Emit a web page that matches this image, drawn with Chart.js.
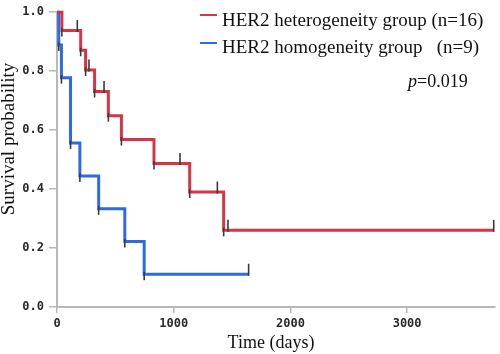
<!DOCTYPE html>
<html lang="en">
<head>
<meta charset="UTF-8">
<title>Survival probability</title>
<script src="https://cdn.jsdelivr.net/npm/chart.js"></script>
<style>
  body { margin: 0; background: #fff; }
  #wrap { width: 500px; height: 354px; }
</style>
</head>
<body>
<div id="wrap"><canvas id="km" width="500" height="354"></canvas></div>
<script>
// group names (legend)
const groupNames = ['HER2 heterogeneity group (n=16)', 'HER2 homogeneity group   (n=9)'];

// heterogeneity group: step points (time in days, survival)
const heteroTimes = [0, 42, 203, 245, 322, 440, 552, 831, 1137, 1428, 3742];
const heteroSurv = [1.0, 0.938, 0.871, 0.804, 0.731, 0.649, 0.568, 0.487, 0.390, 0.260, 0.260];
const heteroCensorTimes = [174, 274, 403, 1054, 1374, 1465, 3742];
const heteroCensorSurv = [0.938, 0.804, 0.731, 0.487, 0.390, 0.260, 0.260];

// homogeneity group
const homoTimes = [0, 15, 38, 116, 196, 357, 581, 747, 1642];
const homoSurv = [1.0, 0.889, 0.778, 0.556, 0.444, 0.333, 0.222, 0.111, 0.111];
const homoCensorTimes = [1642];
const homoCensorSurv = [0.111];

// axes
const xTickValues = [0, 1000, 2000, 3000];
const yTickValues = [0.0, 0.2, 0.4, 0.6, 0.8, 1.0];
const pValueText = '=0.019';

const RED = '#d63447';
const BLUE = '#2d6be3';

function toPoints(t, s) {
    return t.map((v, i) => ({ x: v, y: s[i] }));
}

// event ticks (under the line at each drop), censor ticks (above the line)
const marksPlugin = {
    id: 'marks',
    afterDatasetsDraw(chart) {
        const { ctx, scales: { x, y } } = chart;
        ctx.save();
        ctx.strokeStyle = '#3a3a3a';
        ctx.lineWidth = 1.6;
        [[heteroTimes, heteroSurv], [homoTimes, homoSurv]].forEach(([t, s]) => {
            for (let i = 1; i < t.length - 1; i++) {
                const px = x.getPixelForValue(t[i]);
                const py = y.getPixelForValue(s[i]);
                ctx.beginPath();
                ctx.moveTo(px, py - 2.5);
                ctx.lineTo(px, py + 6);
                ctx.stroke();
            }
        });
        [[heteroCensorTimes, heteroCensorSurv], [homoCensorTimes, homoCensorSurv]].forEach(([t, s]) => {
            t.forEach((v, i) => {
                const px = x.getPixelForValue(v);
                const py = y.getPixelForValue(s[i]);
                ctx.beginPath();
                ctx.moveTo(px, py + 1.5);
                ctx.lineTo(px, py - 10.5);
                ctx.stroke();
            });
        });
        ctx.restore();
    },
    afterDraw(chart) {
        const ctx = chart.ctx;
        ctx.save();
        // legend
        const colors = [RED, BLUE];
        const lineY = [15, 43];
        const textY = [26, 53];
        ctx.font = '19px "Liberation Serif"';
        ctx.fillStyle = '#111';
        ctx.textBaseline = 'alphabetic';
        ctx.textAlign = 'left';
        groupNames.forEach((name, i) => {
            ctx.strokeStyle = colors[i];
            ctx.lineWidth = 2;
            ctx.beginPath();
            ctx.moveTo(200, lineY[i]);
            ctx.lineTo(217, lineY[i]);
            ctx.stroke();
            ctx.fillText(name, 222, textY[i]);
        });
        // p value
        ctx.font = 'italic 18px "Liberation Serif"';
        ctx.fillText('p', 408, 87);
        const pw = ctx.measureText('p').width;
        ctx.font = '18px "Liberation Serif"';
        ctx.fillText(pValueText, 408 + pw, 87);
        // axis titles
        ctx.textAlign = 'center';
        ctx.fillText('Time (days)', 271, 348);
        ctx.translate(14, 139);
        ctx.rotate(-Math.PI / 2);
        ctx.font = '19px "Liberation Serif"';
        ctx.fillText('Survival probability', 0, 0);
        ctx.restore();
    }
};

new Chart(document.getElementById('km'), {
    type: 'line',
    data: {
        datasets: [
            {
                label: groupNames[0],
                data: toPoints(heteroTimes, heteroSurv),
                borderColor: RED,
                borderWidth: 3,
                stepped: 'before',
                pointRadius: 0,
                fill: false,
                clip: 5
            },
            {
                label: groupNames[1],
                data: toPoints(homoTimes, homoSurv),
                borderColor: BLUE,
                borderWidth: 3,
                stepped: 'before',
                pointRadius: 0,
                fill: false,
                clip: 5
            }
        ]
    },
    options: {
        responsive: false,
        animation: false,
        devicePixelRatio: 1,
        layout: { padding: { top: 11, right: 5, left: 0, bottom: 0 } },
        plugins: {
            legend: { display: false },
            tooltip: { enabled: false }
        },
        scales: {
            x: {
                type: 'linear',
                min: 0,
                max: 3753,
                afterFit(scale) { scale.height = 47; },
                afterBuildTicks(scale) { scale.ticks = xTickValues.map(v => ({ value: v })); },
                grid: { drawOnChartArea: false, drawTicks: true, tickLength: 6, color: '#b8b8b8', lineWidth: 1.5 },
                border: { color: '#b8b8b8', width: 2 },
                ticks: {
                    padding: 4,
                    color: '#2a2a2a',
                    font: { family: '"DejaVu Sans Mono"', size: 12, weight: 'bold' },
                    maxRotation: 0,
                    callback: v => String(v)
                }
            },
            y: {
                min: 0,
                max: 1,
                afterFit(scale) { scale.width = 57; },
                afterBuildTicks(scale) { scale.ticks = yTickValues.map(v => ({ value: v })); },
                grid: { drawOnChartArea: false, drawTicks: true, tickLength: 8, color: '#b8b8b8', lineWidth: 1.5 },
                border: { color: '#b8b8b8', width: 2 },
                ticks: {
                    padding: 5,
                    color: '#2a2a2a',
                    font: { family: '"DejaVu Sans Mono"', size: 12, weight: 'bold' },
                    callback: v => Number(v).toFixed(1)
                }
            }
        }
    },
    plugins: [marksPlugin]
});
</script>
</body>
</html>
